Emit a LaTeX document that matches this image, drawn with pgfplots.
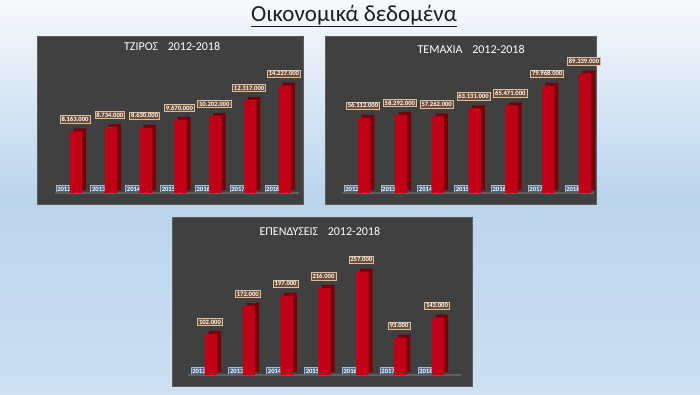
\documentclass[border=0pt]{standalone}
\usepackage{pgfplots}
\pgfplotsset{compat=1.18}
\usepackage{pgfplotstable}
\usepackage{fontspec}
\setmainfont{Carlito}
\definecolor{panel}{RGB}{64,64,64}
\definecolor{panelline}{RGB}{92,92,92}
\definecolor{floorc}{RGB}{96,96,96}
\definecolor{frontred}{RGB}{192,0,22}
\definecolor{sidered}{RGB}{118,0,10}
\definecolor{labfill}{RGB}{112,78,56}
\definecolor{labdraw}{RGB}{214,192,160}
\definecolor{yrfill}{RGB}{74,102,134}
\definecolor{yrdraw}{RGB}{165,185,208}
\definecolor{bgtop}{RGB}{247,249,252}
\definecolor{bgmid}{RGB}{186,212,237}
\definecolor{bgbot}{RGB}{206,224,242}
\definecolor{titlec}{RGB}{30,30,30}

\pgfplotstableread{
x y lab
0 8.163 8.163.000
1 8.734 8.734.000
2 8.630 8.630.000
3 9.670 9.670.000
4 10.202 10.202.000
5 12.317 12.317.000
6 14.227 14.227.000
}\tziros

\pgfplotstableread{
x y lab
0 56.112 56.112.000
1 58.292 58.292.000
2 57.262 57.262.000
3 63.131 63.131.000
4 65.471 65.471.000
5 79.968 79.968.000
6 89.339 89.339.000
}\temaxia

\pgfplotstableread{
x y lab
0 102 102.000
1 172 172.000
2 197 197.000
3 216 216.000
4 257 257.000
5 93 93.000
6 143 143.000
}\ependyseis

\pgfplotsset{
  panelstyle/.style={
    scale only axis, anchor=south west, clip=false,
    axis background/.style={fill=panel},
    axis line style={draw=panelline, line width=0.6pt},
    xtick={0,...,6}, xticklabels={2012,2013,2014,2015,2016,2017,2018},
    ytick=\empty, major tick length=0pt,
    xticklabel style={anchor=south, yshift=11pt, xshift=-12pt, fill=yrfill, draw=yrdraw,
      line width=0.5pt, text=white, font=\bfseries\fontsize{6.6}{7}\selectfont, inner sep=1.4pt},
    every axis title shift=0pt,
    title style={anchor=center, yshift=0pt, text=white, font=\fontsize{12}{14}\selectfont},
  },
  barstyle/.style={
    ybar, bar width=12.5pt, fill=frontred, draw=none,
    preaction={fill=sidered, transform canvas={shift={(4pt,3pt)}}},
    nodes near coords, point meta=explicit symbolic,
    every node near coord/.append style={anchor=south, yshift=8pt, xshift=-1pt, fill=labfill, draw=labdraw,
      line width=0.6pt, text=white, font=\bfseries\fontsize{6.6}{7}\selectfont, inner sep=1.5pt},
  },
}

\begin{document}
\begin{tikzpicture}
\useasboundingbox (0,0) rectangle (700pt,394pt);
\shade[top color=bgtop, bottom color=bgmid] (0,196.5pt) rectangle (700pt,394pt);
\shade[top color=bgmid, bottom color=bgbot] (0,0) rectangle (700pt,197pt);

\node[inner sep=0, anchor=base, font=\fontsize{23}{27}\selectfont, text=titlec] (T) at (354pt,372pt) {Οικονομικά δεδομένα};
\draw[line width=1pt, titlec] ([yshift=-5pt]T.base west) -- ([yshift=-5pt]T.base east);

% Panel 1
\begin{axis}[panelstyle, at={(37pt,190pt)}, width=266pt, height=168pt,
  xmin=-1.12, xmax=6.52, ymin=-1.457, ymax=20.79,
  title={ΤΖΙΡΟΣ\hspace{0.8em}2012-2018}, title style={at={(0.508,0.935)}}]
\addplot[floorc, line width=1.6pt] coordinates {(-0.6,0) (6.4,0)};
\addplot[barstyle] table[x=x, y=y, meta=lab] {\tziros};
\end{axis}

% Panel 2
\begin{axis}[panelstyle, at={(325pt,190pt)}, width=271pt, height=168pt,
  xmin=-1.06, xmax=6.30, ymin=-8.21, ymax=117.16,
  title={ΤΕΜΑΧΙΑ\hspace{0.8em}2012-2018}, title style={at={(0.539,0.917)}}]
\addplot[floorc, line width=1.6pt] coordinates {(-0.6,0) (6.25,0)};
\addplot[barstyle] table[x=x, y=y, meta=lab] {\temaxia};
\end{axis}

% Panel 3
\begin{axis}[panelstyle, at={(172pt,8pt)}, width=300pt, height=169pt,
  xmin=-1.03, xmax=6.9, ymin=-27.36, ymax=393,
  title={ΕΠΕΝΔΥΣΕΙΣ\hspace{0.8em}2012-2018}, title style={at={(0.493,0.917)}}]
\addplot[floorc, line width=1.6pt] coordinates {(-0.6,0) (6.6,0)};
\addplot[barstyle] table[x=x, y=y, meta=lab] {\ependyseis};
\end{axis}
\end{tikzpicture}
\end{document}
